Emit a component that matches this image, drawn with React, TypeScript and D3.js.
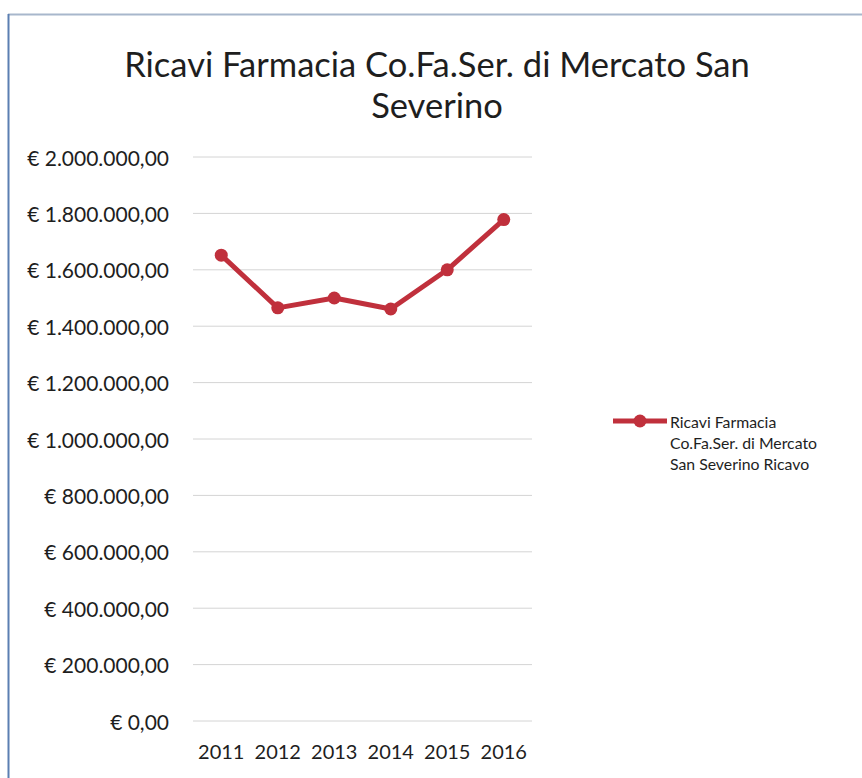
import React from "react";
import * as d3 from "d3";

const years = ["2011", "2012", "2013", "2014", "2015", "2016"];
const revenues = [1652000, 1465000, 1500000, 1461000, 1600000, 1778000];
const yTicks = [0, 200000, 400000, 600000, 800000, 1000000, 1200000, 1400000, 1600000, 1800000, 2000000];
const titleLines = ["Ricavi Farmacia Co.Fa.Ser. di Mercato San", "Severino"];
const legendLines = ["Ricavi Farmacia", "Co.Fa.Ser. di Mercato", "San Severino Ricavo"];

const W = 862;
const H = 778;
const FONT = "Lato, 'Open Sans', sans-serif";
const RED = "#c0303c";
const TXT = "#1e1e1e";

function fmtEuro(v: number): string {
  const parts = Math.round(v).toString().replace(/\B(?=(\d{3})+(?!\d))/g, ".");
  return "€ " + parts + ",00";
}

export default function App() {
  const x = d3.scaleBand<string>().domain(years).range([193, 532]);
  const y = d3.scaleLinear().domain([0, 2000000]).range([721, 157]);
  const cx = (d: string) => (x(d) ?? 0) + x.bandwidth() / 2;
  const line = d3
    .line<number>()
    .x((_, i) => cx(years[i]))
    .y((d) => y(d));

  return (
    <svg
      width={W}
      height={H}
      style={{ position: "absolute", left: 0, top: 0, background: "#fff" }}
      fontFamily={FONT}
    >
      <rect x={0} y={0} width={W} height={H} fill="#ffffff" />
      <line x1={8} y1={14.5} x2={W} y2={14.5} stroke="#a8b7cc" strokeWidth={2} />
      <line x1={8.5} y1={14} x2={8.5} y2={H} stroke="#5b7fb2" strokeWidth={2} />

      {titleLines.map((t, i) => (
        <text
          key={t}
          x={437}
          y={63 + i * 41}
          textAnchor="middle"
          dominantBaseline="central"
          fontSize={34.5}
          fill={TXT}
        >
          {t}
        </text>
      ))}

      {yTicks.map((t) => (
        <g key={t}>
          <line x1={193} x2={532} y1={y(t)} y2={y(t)} stroke="#d4d4d4" strokeWidth={1} />
          <text
            x={169}
            y={y(t)}
            textAnchor="end"
            dominantBaseline="central"
            fontSize={21}
            fill={TXT}
          >
            {fmtEuro(t)}
          </text>
        </g>
      ))}

      {years.map((yr) => (
        <text
          key={yr}
          x={cx(yr)}
          y={751}
          textAnchor="middle"
          dominantBaseline="central"
          fontSize={20}
          fill={TXT}
        >
          {yr}
        </text>
      ))}

      <path
        d={line(revenues) ?? ""}
        fill="none"
        stroke={RED}
        strokeWidth={5}
        strokeLinejoin="round"
        strokeLinecap="round"
      />
      {revenues.map((v, i) => (
        <circle key={years[i]} cx={cx(years[i])} cy={y(v)} r={6.5} fill={RED} />
      ))}

      <line x1={613} x2={667} y1={421} y2={421} stroke={RED} strokeWidth={5} />
      <circle cx={640} cy={421} r={6.5} fill={RED} />
      {legendLines.map((t, i) => (
        <text
          key={t}
          x={670}
          y={421 + i * 21}
          dominantBaseline="central"
          fontSize={15.8}
          fill={TXT}
        >
          {t}
        </text>
      ))}
    </svg>
  );
}
